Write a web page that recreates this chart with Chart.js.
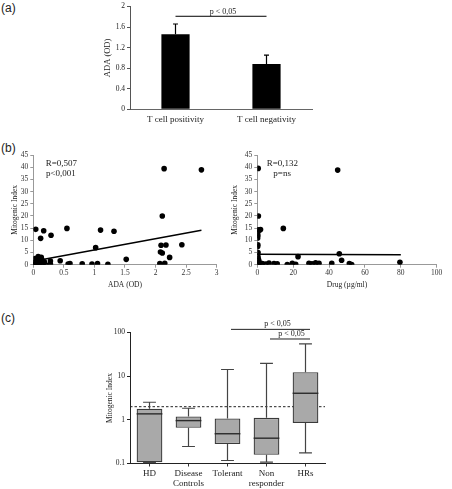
<!DOCTYPE html>
<html><head><meta charset="utf-8">
<script src="https://cdn.jsdelivr.net/npm/chart.js@4/dist/chart.umd.min.js"></script>
<style>
html,body{margin:0;padding:0;background:#fff;width:452px;height:489px;overflow:hidden;position:relative}
canvas{position:absolute}
.lbl{position:absolute;font-family:"Liberation Sans",Arial,sans-serif;font-size:12px;color:#222;line-height:14px}
</style></head><body>
<div class="lbl" style="left:1px;top:1px">(a)</div>
<div class="lbl" style="left:1px;top:141px">(b)</div>
<div class="lbl" style="left:1px;top:311px">(c)</div>
<canvas id="ca" width="452" height="135" style="left:0;top:0;width:452px;height:135px"></canvas>
<canvas id="cb1" width="230" height="160" style="left:0;top:140px;width:230px;height:160px"></canvas>
<canvas id="cb2" width="222" height="160" style="left:230px;top:140px;width:222px;height:160px"></canvas>
<canvas id="cc" width="452" height="179" style="left:0;top:310px;width:452px;height:179px"></canvas>
<script>
// ---------- DATA ----------
// Panel (a)
const barCategories = ['T cell positivity', 'T cell negativity'];
const adaMeans = [1.46, 0.88];
const adaErrUp = [0.20, 0.175];
const adaTicks = [0, 0.4, 0.8, 1.2, 1.6, 2];
const adaSigText = 'p < 0,05';
const adaSigLevel = 1.81;

// Panel (b) left: ADA (OD) vs Mitogenic Index
const adaX = [0.00,0.02,0.03,0.03,0.04,0.05,0.06,0.07,0.08,0.09,0.10,0.11,0.12,0.13,0.14,0.15,0.16,0.17,0.18,0.20,0.28,0.28,0.29,0.44,0.55,0.57,0.60,0.80,0.96,1.02,1.05,1.10,1.22,1.32,1.52,2.07,2.08,2.09,2.11,2.11,2.14,2.15,2.17,2.23,2.43,2.75];
const adaMI = [0.2,0.3,1.0,2.5,14.5,0.5,2.0,0.1,3.3,0.6,0.2,1.5,10.8,3.0,2.0,0.8,0.2,13.9,1.2,0.1,1.5,0.3,12.1,1.6,14.9,0.3,0.5,0.4,0.3,7.0,0.5,14.2,0.2,13.7,2.2,0.5,5.2,8.0,4.8,20.0,39.4,0.6,8.1,3.0,8.2,38.9];
const adaFitX = [0.02, 2.75];
const adaFitY = [1.56, 14.1];
const adaXTicks = [0, 0.5, 1, 1.5, 2, 2.5, 3];
const miTicks = [0, 5, 10, 15, 20, 25, 30, 35, 40, 45];

// Panel (b) right: Drug (µg/ml) vs Mitogenic Index
const drugX = [0.5,0.6,0.3,1.2,1.8,0.2,0.3,0.2,0.3,0.2,0.4,0.3,0.5,0.8,1.0,0.3,1.5,2.8,4.7,6.5,9.3,11.1,14.5,16.7,19.5,21.4,22.7,28.8,30.5,32.5,34.4,41.5,44.8,45.7,47.0,51.3,52.6,79.5];
const drugMI = [39.5,20.0,14.3,14.2,14.4,13.0,12.0,11.0,8.2,7.5,5.0,3.5,2.5,1.8,1.0,0.5,0.3,0.5,0.3,0.7,0.5,0.4,14.9,0.1,0.6,0.2,3.3,0.6,0.4,0.8,0.6,0.6,38.8,4.5,1.8,0.5,0.1,1.0];
const drugFitX = [0, 80];
const drugFitY = [4.3, 4.1];
const drugXTicks = [0, 20, 40, 60, 80, 100];

// Panel (c): box plots
const boxCategories = [['HD'], ['Disease', 'Controls'], ['Tolerant'], ['Non', 'responder'], ['HRs']];
const boxMin = [0.105, 0.245, 0.117, 0.107, 0.176];
const boxQ1 = [0.107, 0.66, 0.28, 0.158, 0.85];
const boxMedian = [1.37, 0.96, 0.48, 0.38, 4.06];
const boxQ3 = [1.79, 1.19, 1.07, 1.11, 12.3];
const boxMax = [2.53, 1.84, 14.2, 19.7, 55];
const boxTicks = [0.1, 1, 10, 100];
const threshold = 2;
const sigPairs = [[2, 4, 118, 'p < 0,05'], [3, 4, 71, 'p < 0,05']];

// ---------- STYLE / HELPERS ----------
const SERIF = '"Liberation Serif","Times New Roman",serif';
Chart.defaults.font.family = SERIF;
Chart.defaults.color = '#222';
Chart.defaults.animation = false;
Chart.defaults.plugins.legend.display = false;
Chart.defaults.plugins.tooltip.enabled = false;

const fixW = w => s => { s.width = w; };
const fixH = h => s => { s.height = h; };
const setTicks = arr => s => { s.ticks = arr.map(v => ({ value: v })); };
const plain = v => String(Math.round(v * 1000) / 1000);

// ---------- PANEL (a) ----------
const errorBars = {
  id: 'errorBars',
  afterDatasetsDraw(chart) {
    const { ctx, scales: { x, y } } = chart;
    ctx.save();
    ctx.strokeStyle = '#000'; ctx.lineWidth = 1.2;
    adaMeans.forEach((m, i) => {
      const px = x.getPixelForValue(i);
      const y0 = y.getPixelForValue(m), y1 = y.getPixelForValue(m + adaErrUp[i]);
      ctx.beginPath();
      ctx.moveTo(px, y0); ctx.lineTo(px, y1);
      ctx.moveTo(px - 2.5, y1); ctx.lineTo(px + 2.5, y1);
      ctx.stroke();
    });
    const yS = y.getPixelForValue(adaSigLevel);
    const x0 = x.getPixelForValue(0), x1 = x.getPixelForValue(1);
    ctx.lineWidth = 1;
    ctx.beginPath(); ctx.moveTo(x0, yS); ctx.lineTo(x1, yS); ctx.stroke();
    ctx.font = '8px ' + SERIF; ctx.textAlign = 'center'; ctx.textBaseline = 'bottom'; ctx.fillStyle = '#222';
    ctx.fillText(adaSigText, (x0 + x1) / 2 + 2, yS - 0.5);
    ctx.restore();
  }
};

new Chart(document.getElementById('ca'), {
  type: 'bar',
  data: {
    labels: barCategories,
    datasets: [{ data: adaMeans, backgroundColor: '#000', borderWidth: 0, barPercentage: 0.31, categoryPercentage: 1 }]
  },
  options: {
    responsive: false,
    layout: { padding: { left: 100, right: 140, top: 4.7, bottom: 5.7 } },
    scales: {
      x: {
        afterFit: fixH(20),
        grid: { display: true, drawOnChartArea: false, drawTicks: false },
        border: { color: '#666', width: 1 },
        ticks: { font: { size: 9 }, padding: 5, color: '#222' }
      },
      y: {
        min: 0, max: 2,
        afterFit: fixW(30),
        afterBuildTicks: setTicks(adaTicks),
        grid: { drawOnChartArea: false, drawTicks: true, tickLength: 3, color: '#555' },
        border: { color: '#555', width: 1 },
        ticks: { font: { size: 7.5 }, padding: 2, color: '#222', callback: plain },
        title: { display: true, text: 'ADA (OD)', font: { size: 8.5 }, padding: { top: 3, bottom: 0 }, color: '#222' }
      }
    }
  },
  plugins: [errorBars]
});

// ---------- PANEL (b) ----------
function annot(lines, dx) {
  return {
    id: 'annot',
    afterDraw(chart) {
      const { ctx, chartArea } = chart;
      ctx.save();
      ctx.font = '9px ' + SERIF; ctx.fillStyle = '#222'; ctx.textBaseline = 'middle'; ctx.textAlign = 'left';
      lines.forEach((t, i) => ctx.fillText(t, chartArea.left + dx[i], chartArea.top + 8.3 + i * 10));
      ctx.restore();
    }
  };
}

function scatterChart(id, xs, ys, fx, fy, xmax, xTicks, xTitle, yW, padR, yTitlePad, ann, annDx) {
  return new Chart(document.getElementById(id), {
    type: 'scatter',
    data: {
      datasets: [
        { data: xs.map((v, i) => ({ x: v, y: ys[i] })), backgroundColor: '#000', borderColor: '#000', pointRadius: 2.8, pointBorderWidth: 0 },
        { type: 'line', data: fx.map((v, i) => ({ x: v, y: fy[i] })), borderColor: '#000', borderWidth: 1.5, pointRadius: 0, fill: false }
      ]
    },
    options: {
      responsive: false,
      layout: { padding: { left: 0, right: padR, top: 15, bottom: 160 - 124.7 - 25 } },
      scales: {
        x: {
          type: 'linear', min: 0, max: xmax,
          afterFit: fixH(25),
          afterBuildTicks: setTicks(xTicks),
          grid: { drawOnChartArea: false, drawTicks: true, tickLength: 3, color: '#999' },
          border: { color: '#999', width: 1 },
          ticks: { font: { size: 7.5 }, padding: 1, color: '#333', callback: plain },
          title: { display: true, text: xTitle, font: { size: 7.5 }, padding: { top: 0, bottom: 0 }, color: '#222' }
        },
        y: {
          min: 0, max: 45,
          afterFit: fixW(yW),
          afterBuildTicks: setTicks(miTicks),
          grid: { drawOnChartArea: false, drawTicks: true, tickLength: 3, color: '#999' },
          border: { color: '#999', width: 1 },
          ticks: { font: { size: 7.5 }, padding: 2, color: '#333', callback: plain },
          title: { display: true, text: 'Mitogenic Index', font: { size: 7.5 }, padding: { top: yTitlePad, bottom: 0 }, color: '#222' }
        }
      }
    },
    plugins: [annot(ann, annDx)]
  });
}

scatterChart('cb1', adaX, adaMI, adaFitX, adaFitY, 3, adaXTicks, 'ADA (OD)', 33.3, 230 - 216.7, 10.5, ['R=0,507', 'p<0,001'], [12.4, 12.7]);
scatterChart('cb2', drugX, drugMI, drugFitX, drugFitY, 100, drugXTicks, 'Drug (µg/ml)', 27.3, 222 - 206.7, 0.5, ['R=0,132', 'p=ns'], [9.4, 16]);

// ---------- PANEL (c) ----------
const boxDecor = {
  id: 'boxDecor',
  beforeDatasetsDraw(chart) {
    const { ctx, chartArea, scales: { y } } = chart;
    const yt = y.getPixelForValue(threshold);
    ctx.save();
    ctx.strokeStyle = '#222'; ctx.lineWidth = 1; ctx.setLineDash([2.5, 2]);
    ctx.beginPath(); ctx.moveTo(chartArea.left, yt); ctx.lineTo(chartArea.right, yt); ctx.stroke();
    ctx.restore();
  },
  afterDatasetsDraw(chart) {
    const { ctx, scales: { x, y } } = chart;
    const meta = chart.getDatasetMeta(0);
    ctx.save();
    boxCategories.forEach((c, i) => {
      const bar = meta.data[i];
      const px = bar.x, hw = bar.width / 2, cw = hw / 2;
      const yMin = y.getPixelForValue(boxMin[i]), yQ1 = y.getPixelForValue(boxQ1[i]);
      const yQ3 = y.getPixelForValue(boxQ3[i]), yMax = y.getPixelForValue(boxMax[i]);
      const yMed = y.getPixelForValue(boxMedian[i]);
      ctx.strokeStyle = '#444'; ctx.lineWidth = 1.2;
      ctx.beginPath();
      ctx.moveTo(px, yQ3); ctx.lineTo(px, yMax);
      ctx.moveTo(px - cw, yMax); ctx.lineTo(px + cw, yMax);
      ctx.moveTo(px, yQ1); ctx.lineTo(px, yMin);
      ctx.moveTo(px - cw, yMin); ctx.lineTo(px + cw, yMin);
      ctx.stroke();
      ctx.strokeStyle = '#2a2a2a'; ctx.lineWidth = 1.4;
      ctx.beginPath(); ctx.moveTo(px - hw, yMed); ctx.lineTo(px + hw, yMed); ctx.stroke();
    });
    ctx.strokeStyle = '#222'; ctx.lineWidth = 1;
    ctx.font = '8px ' + SERIF; ctx.fillStyle = '#222'; ctx.textAlign = 'center'; ctx.textBaseline = 'bottom';
    sigPairs.forEach(([a, b, lvl, t], k) => {
      const x0 = x.getPixelForValue(a) + 3.5, x1 = x.getPixelForValue(b) + 4.5;
      const ys = y.getPixelForValue(lvl);
      ctx.beginPath(); ctx.moveTo(x0, ys); ctx.lineTo(x1, ys); ctx.stroke();
      ctx.fillText(t, (x0 + x1) / 2 + (k === 0 ? 7 : 1.5), ys - 1);
    });
    ctx.restore();
  }
};

new Chart(document.getElementById('cc'), {
  type: 'bar',
  data: {
    labels: boxCategories,
    datasets: [{
      data: boxQ1.map((q, i) => [q, boxQ3[i]]),
      backgroundColor: '#a9a9a9', borderColor: '#3a3a3a', borderWidth: 1.3, borderSkipped: false,
      barPercentage: 0.66, categoryPercentage: 1
    }]
  },
  options: {
    responsive: false,
    layout: { padding: { left: 100, right: 127, top: 22.5, bottom: 179 - 153.5 - 25 } },
    scales: {
      x: {
        afterFit: fixH(25),
        grid: { display: true, drawOnChartArea: false, drawTicks: true, tickLength: 3, offset: false, color: '#333' },
        border: { color: '#222', width: 1 },
        ticks: { font: { size: 9, lineHeight: 1.15 }, padding: 2, color: '#222', maxRotation: 0, autoSkip: false }
      },
      y: {
        type: 'logarithmic', min: 0.1, max: 100,
        afterFit: fixW(30),
        afterBuildTicks: setTicks(boxTicks),
        grid: { drawOnChartArea: false, drawTicks: true, tickLength: 3, color: '#222' },
        border: { color: '#222', width: 1 },
        ticks: { font: { size: 7.5 }, padding: 2, color: '#222', callback: plain },
        title: { display: true, text: 'Mitogenic Index', font: { size: 7.5 }, padding: { top: 5.5, bottom: 0 }, color: '#222' }
      }
    }
  },
  plugins: [boxDecor]
});
</script>
</body></html>
